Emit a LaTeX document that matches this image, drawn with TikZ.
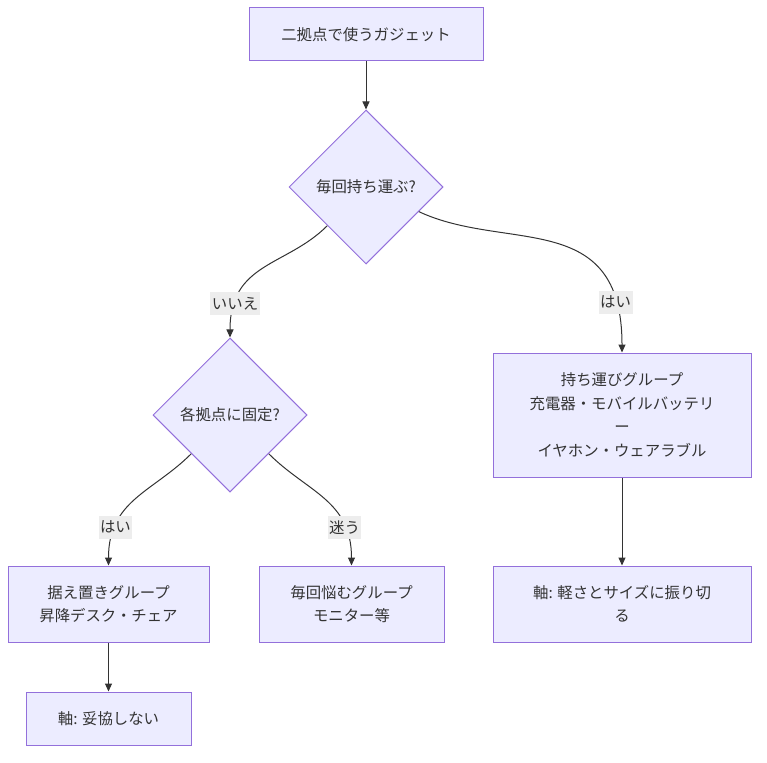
\documentclass[tikz,border=0pt]{standalone}
\usepackage{fontspec}
\newfontfamily\jpfont{Noto Sans CJK JP}
\usetikzlibrary{arrows.meta,shapes.geometric}
\definecolor{nodefill}{HTML}{ECECFF}
\definecolor{nodeline}{HTML}{9370DB}
\definecolor{edgeline}{HTML}{333333}
\definecolor{lblfill}{HTML}{EDEDED}

\begin{document}
\begin{tikzpicture}[
    x=1pt, y=-1pt,
    font=\jpfont\fontsize{15.4}{23.5}\selectfont, text=edgeline,
    box/.style={draw=nodeline, line width=1pt, fill=nodefill,
                minimum width=#1, align=center, inner sep=0pt},
    dec/.style={diamond, draw=nodeline, line width=1pt, fill=nodefill,
                minimum size=154pt, inner sep=0pt, align=center},
    arr/.style={-{Triangle[length=8pt,width=7pt]}, line width=1pt, draw=edgeline},
    lbl/.style={fill=lblfill, inner sep=1.5pt, minimum height=23pt, text=edgeline}]
  \useasboundingbox (0,0) rectangle (767,762);
  %% Top
  \node[box=234pt, minimum height=53pt] (gadget) at (366,34.5) {二拠点で使うガジェット};
  %% Decisions
  \node[dec] (carry) at (366,187) {毎回持ち運ぶ?};
  \node[dec] (fixed) at (230,415) {各拠点に固定?};
  %% Right branch
  \node[box=258pt, minimum height=124pt] (mobile) at (622,415)
    {持ち運びグループ\\充電器・モバイルバッテリ\\ー\\イヤホン・ウェアラブル};
  \node[box=258pt, minimum height=76pt] (light) at (622,604)
    {軸: 軽さとサイズに振り切\\る};
  %% Left branch
  \node[box=201pt, minimum height=76pt] (station) at (108.5,604)
    {据え置きグループ\\昇降デスク・チェア};
  \node[box=185pt, minimum height=76pt] (unsure) at (351.5,604)
    {毎回悩むグループ\\モニター等};
  \node[box=165pt, minimum height=53pt] (nocomp) at (108.5,718.5) {軸: 妥協しない};
  %% Connectors
  \draw[arr] (gadget) -- (carry);
  \draw[arr] (carry) to[out=-135, in=90, in looseness=1.3]
    node[lbl, pos=0.82] {いいえ} (fixed);
  \draw[arr] (carry) to[out=-25, in=90, in looseness=1.5]
    node[lbl, pos=0.86] {はい} (mobile);
  \draw[arr] (fixed) to[out=-135, in=90, in looseness=1.2]
    node[lbl, pos=0.76] {はい} (station);
  \draw[arr] (fixed) to[out=-45, in=90, in looseness=1.2]
    node[lbl, pos=0.76] {迷う} (unsure);
  \draw[arr] (mobile) -- (light);
  \draw[arr] (station) -- (nocomp);
\end{tikzpicture}
\end{document}
